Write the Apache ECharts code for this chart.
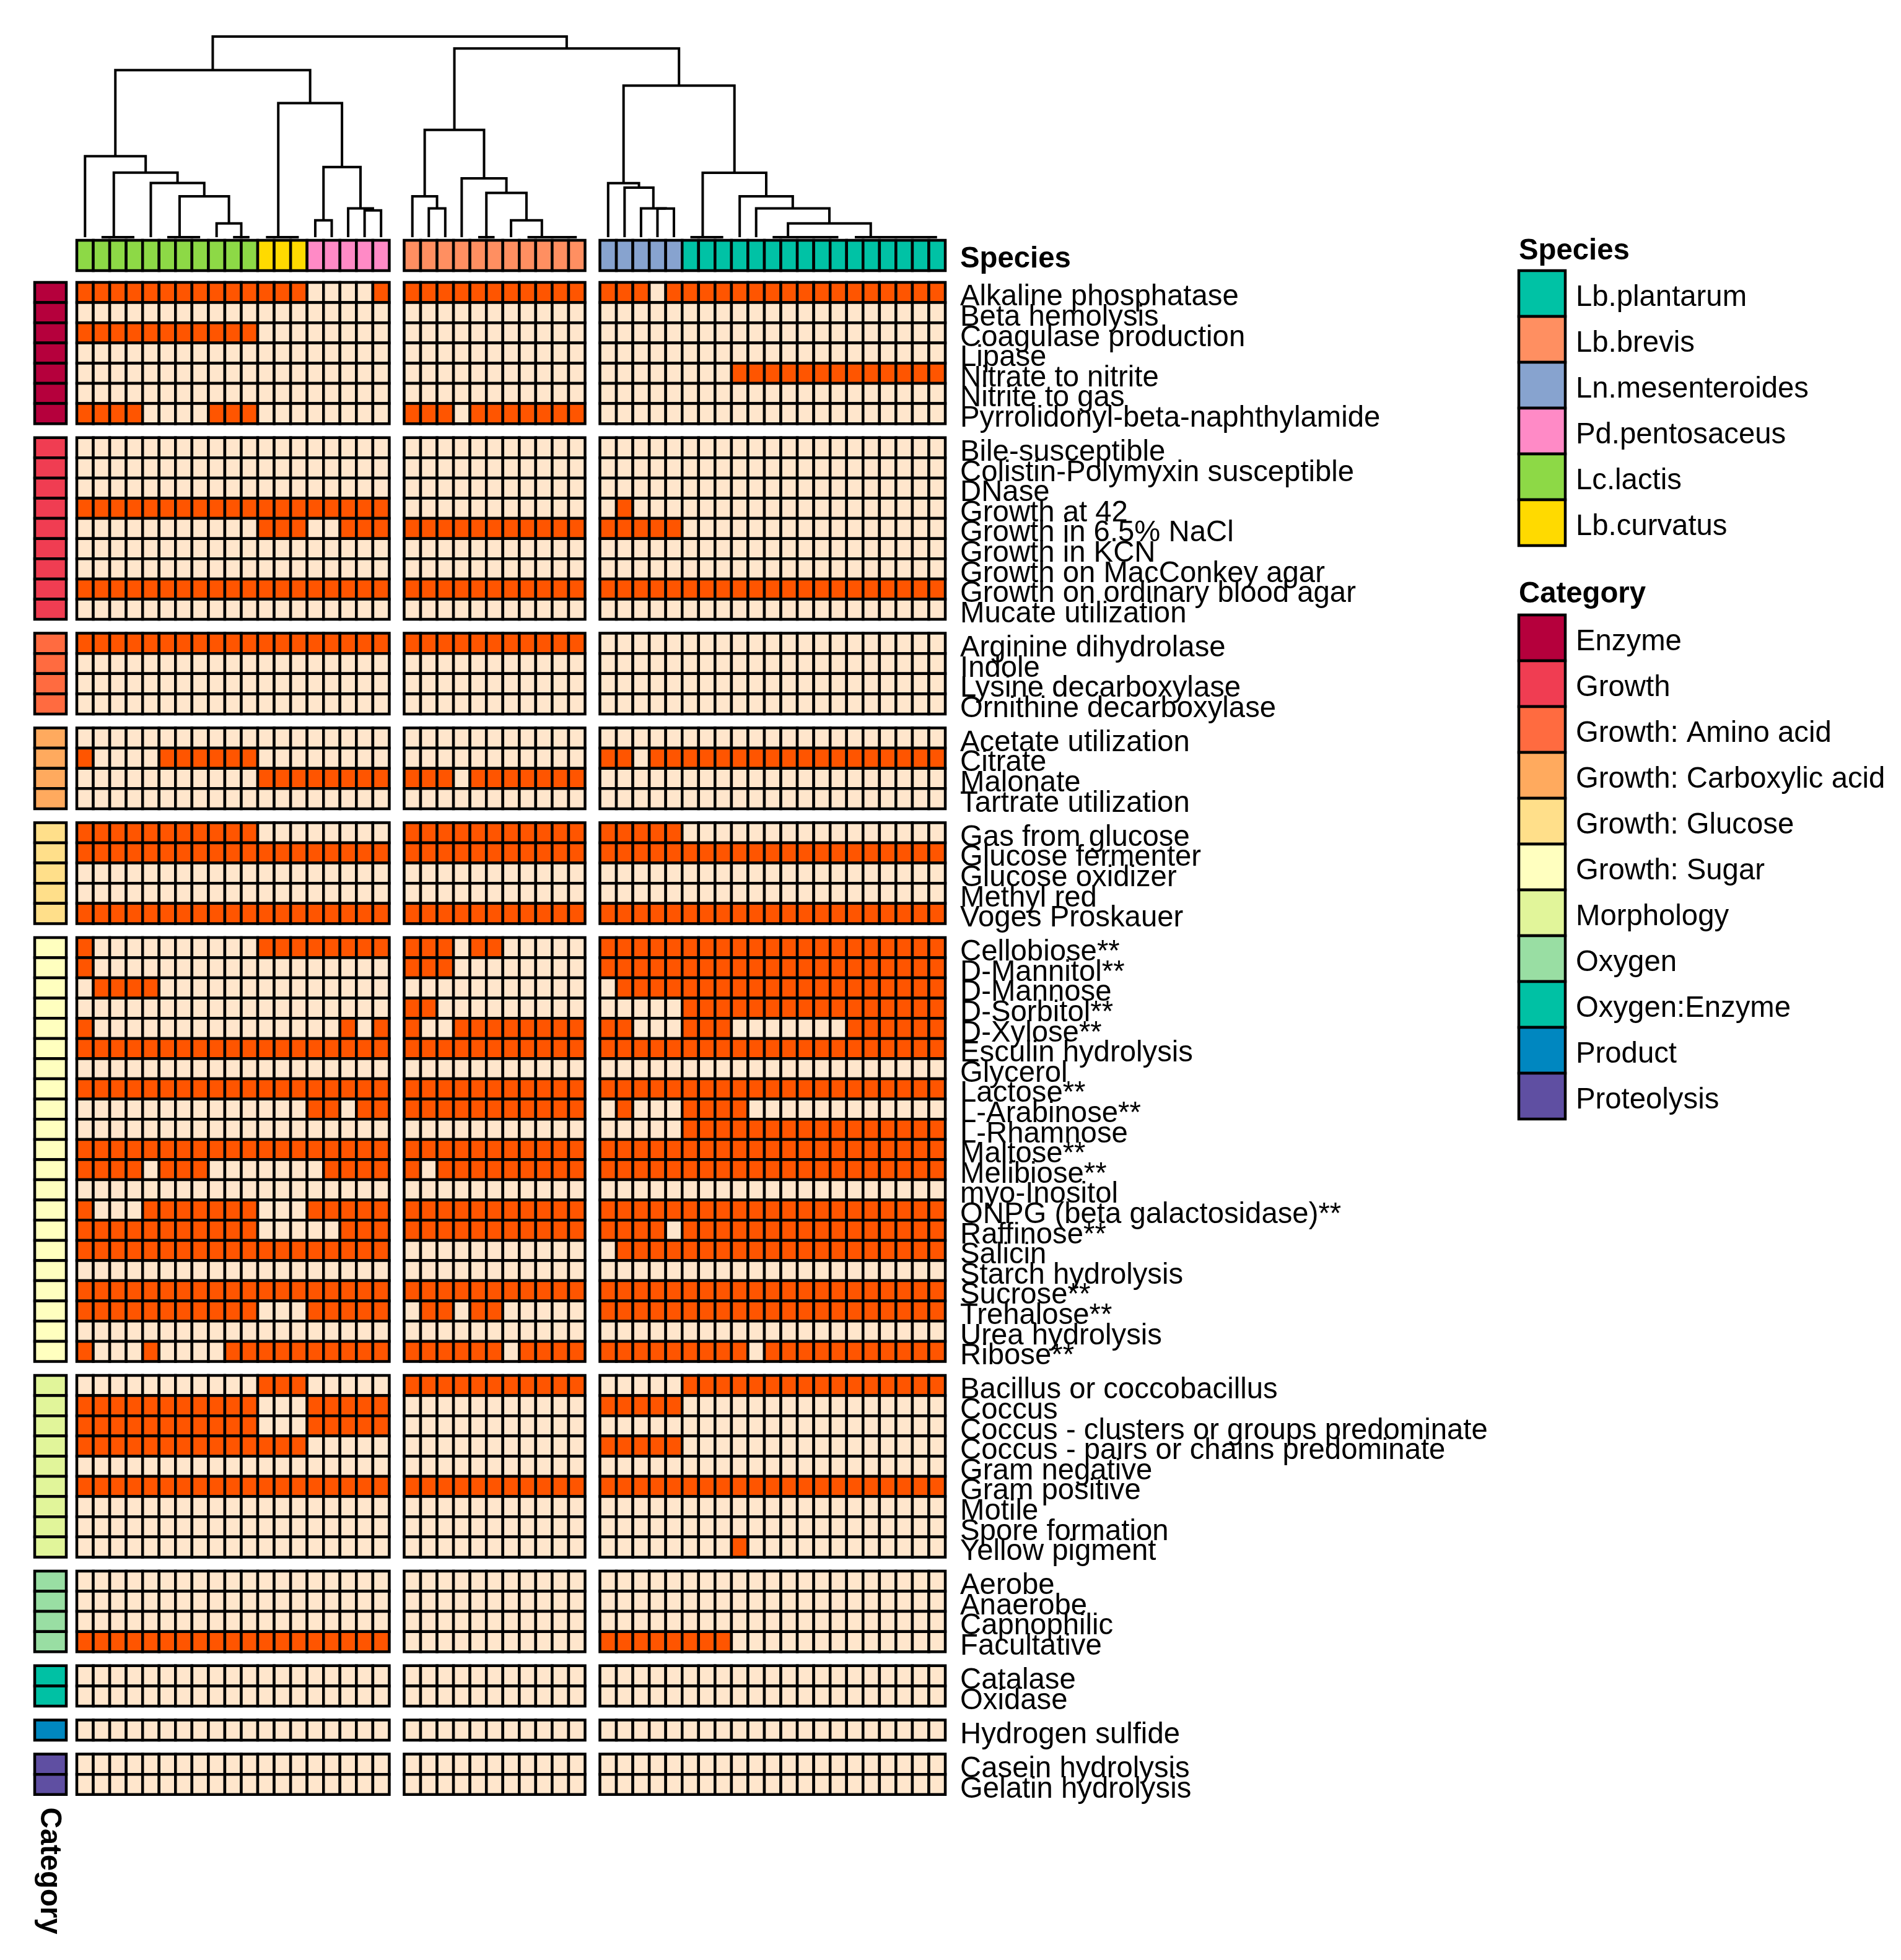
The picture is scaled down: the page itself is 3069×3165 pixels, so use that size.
<!DOCTYPE html>
<html>
<head>
<meta charset="utf-8">
<script src="https://cdn.jsdelivr.net/npm/echarts@6/dist/echarts.min.js"></script>
<style>html,body{margin:0;padding:0;background:#fff}#chart{width:3069px;height:3165px}</style>
</head>
<body>
<div id="chart"></div>
<script>
// ---------------- DATA ----------------
const categoryNames = ['Enzyme','Growth','Growth: Amino acid','Growth: Carboxylic acid','Growth: Glucose','Growth: Sugar','Morphology','Oxygen','Oxygen:Enzyme','Product','Proteolysis'];
const categoryColors = ['#B5003C','#F03D52','#FF6B40','#FFAA5E','#FFDF8A','#FFFFBF','#E1F59A','#99DEA3','#00C1A4','#0087C0','#5F4FA2'];
const categoryRowCounts = [7,9,4,4,5,21,9,4,2,1,2];

const speciesNames = ['Lb.plantarum','Lb.brevis','Ln.mesenteroides','Pd.pentosaceus','Lc.lactis','Lb.curvatus'];
const speciesColors = ['#00C2A5','#FF8F61','#87A3CF','#FF8AC6','#8DD946','#FFDA00'];
// column slices (left to right), runs of species
const columnGroupRuns = [
  [['Lc.lactis',11],['Lb.curvatus',3],['Pd.pentosaceus',5]],
  [['Lb.brevis',11]],
  [['Ln.mesenteroides',5],['Lb.plantarum',16]]
];

const traitNames = [
  'Alkaline phosphatase','Beta hemolysis','Coagulase production','Lipase','Nitrate to nitrite','Nitrite to gas','Pyrrolidonyl-beta-naphthylamide',
  'Bile-susceptible','Colistin-Polymyxin susceptible','DNase','Growth at 42','Growth in 6.5% NaCl','Growth in KCN','Growth on MacConkey agar','Growth on ordinary blood agar','Mucate utilization',
  'Arginine dihydrolase','Indole','Lysine decarboxylase','Ornithine decarboxylase',
  'Acetate utilization','Citrate','Malonate','Tartrate utilization',
  'Gas from glucose','Glucose fermenter','Glucose oxidizer','Methyl red','Voges Proskauer',
  'Cellobiose**','D-Mannitol**','D-Mannose','D-Sorbitol**','D-Xylose**','Esculin hydrolysis','Glycerol','Lactose**','L-Arabinose**','L-Rhamnose','Maltose**','Melibiose**','myo-Inositol','ONPG (beta galactosidase)**','Raffinose**','Salicin','Starch hydrolysis','Sucrose**','Trehalose**','Urea hydrolysis','Ribose**',
  'Bacillus or coccobacillus','Coccus','Coccus - clusters or groups predominate','Coccus - pairs or chains predominate','Gram negative','Gram positive','Motile','Spore formation','Yellow pigment',
  'Aerobe','Anaerobe','Capnophilic','Facultative',
  'Catalase','Oxidase',
  'Hydrogen sulfide',
  'Casein hydrolysis','Gelatin hydrolysis'
];
// 1 = positive, 0 = negative; three column slices separated by spaces
const traitValues = [
  '1111111111111100001 11111111111 111011111111111111111',
  '0000000000000000000 00000000000 000000000000000000000',
  '1111111111100000000 00000000000 000000000000000000000',
  '0000000000000000000 00000000000 000000000000000000000',
  '0000000000000000000 00000000000 000000001111111111111',
  '0000000000000000000 00000000000 000000000000000000000',
  '1111000011100000000 11101111111 000000000000000000000',
  '0000000000000000000 00000000000 000000000000000000000',
  '0000000000000000000 00000000000 000000000000000000000',
  '0000000000000000000 00000000000 000000000000000000000',
  '1111111111111111111 00000000000 010000000000000000000',
  '0000000000011100111 11111111111 111110000000000000000',
  '0000000000000000000 00000000000 000000000000000000000',
  '0000000000000000000 00000000000 000000000000000000000',
  '1111111111111111111 11111111111 111111111111111111111',
  '0000000000000000000 00000000000 000000000000000000000',
  '1111111111111111111 11111111111 000000000000000000000',
  '0000000000000000000 00000000000 000000000000000000000',
  '0000000000000000000 00000000000 000000000000000000000',
  '0000000000000000000 00000000000 000000000000000000000',
  '0000000000000000000 00000000000 000000000000000000000',
  '1000011111100000000 00000000000 110111111111111111111',
  '0000000000011111111 11101111111 000000000000000000000',
  '0000000000000000000 00000000000 000000000000000000000',
  '1111111111100000000 11111111111 111110000000000000000',
  '1111111111111111111 11111111111 111111111111111111111',
  '0000000000000000000 00000000000 000000000000000000000',
  '0000000000000000000 00000000000 000000000000000000000',
  '1111111111111111111 11111111111 111111111111111111111',
  '1000000000011111111 11101100000 111111111111111111111',
  '1000000000000000000 11100000000 111111111111111111111',
  '0111100000000000000 00000000000 011111111111111111111',
  '0000000000000000000 11000000000 000001111111111111111',
  '1000000000000000101 10011111111 110001110000000111111',
  '1111111111111111111 11111111111 111111111111111111111',
  '0000000000000000000 00000000000 000000000000000000000',
  '1111111111111111111 11111111111 111111111111111111111',
  '0000000000000011011 11111111111 010001111000000000000',
  '0000000000000000000 00000000000 000001111111111111111',
  '1111111111111111111 11111111111 111111111111111111111',
  '1111011100000001111 10111111111 111111111111111111111',
  '0000000000000000000 00000000000 000000000000000000000',
  '1000111111100011111 11111111111 111111111111111111111',
  '1111111111100000111 11111111111 111101111111111111111',
  '1111111111111111111 00000000000 011111111111111111111',
  '0000000000000000000 00000000000 000000000000000000000',
  '1111111111111111111 11111111111 111111111111111111111',
  '1111111111100011111 01101100000 111111111111111111111',
  '0000000000000000000 00000000000 000000000000000000000',
  '1000100001111111111 11111101111 111111111011111111111',
  '0000000000011100000 11111111111 000001111111111111111',
  '1111111111100011111 00000000000 111110000000000000000',
  '1111111111100011111 00000000000 000000000000000000000',
  '1111111111111100000 00000000000 111110000000000000000',
  '0000000000000000000 00000000000 000000000000000000000',
  '1111111111111111111 11111111111 111111111111111111111',
  '0000000000000000000 00000000000 000000000000000000000',
  '0000000000000000000 00000000000 000000000000000000000',
  '0000000000000000000 00000000000 000000001000000000000',
  '0000000000000000000 00000000000 000000000000000000000',
  '0000000000000000000 00000000000 000000000000000000000',
  '0000000000000000000 00000000000 000000000000000000000',
  '1111111111111111111 00000000000 111111110000000000000',
  '0000000000000000000 00000000000 000000000000000000000',
  '0000000000000000000 00000000000 000000000000000000000',
  '0000000000000000000 00000000000 000000000000000000000',
  '0000000000000000000 00000000000 000000000000000000000',
  '0000000000000000000 00000000000 000000000000000000000'
];
const valueColors = ['#FFE6CC', '#FF5500'];

// column dendrogram: leaves 0..50; merge k gets id 51+k; [childA, childB, height]
const dendroMerges = [
  [2,3,0],[1,51,0],[6,7,0],[5,53,0],[9,10,0],[8,55,67],[54,56,198],[4,57,263],[52,58,313],[0,59,393],
  [12,13,0],[11,61,0],[14,15,82],[17,18,130],[16,64,140],[63,65,340],[62,66,650],[60,67,810],
  [20,21,140],[19,69,198],[23,24,0],[28,29,0],[27,72,0],[26,73,0],[25,74,82],[71,75,215],[22,76,285],[70,77,520],
  [33,34,139],[32,79,140],[31,80,240],[30,81,262],
  [36,37,0],[35,83,0],[43,44,0],[42,85,0],[41,86,0],[40,87,0],[49,50,0],[48,89,0],[47,90,0],[46,91,0],[45,92,0],
  [88,93,67],[39,94,140],[38,95,198],[84,96,312],[82,97,735],[78,98,915],[68,99,973]
];

// ---------------- LAYOUT ----------------
const FONT = '"Liberation Sans", Arial, sans-serif';
const LEFT = 124, COL_W = 26.55, GAP_C = 24;
const TOP = 456, ROW_H = 32.6, GAP_R = 22.5;
const ANNO_X = 56, ANNO_W = 51;
const DENDRO_TOP = 59, DENDRO_BOTTOM = 383;
const SPEC_TOP = 388, SPEC_H = 49;
const LABEL_SIZE = 47.3;
const CELL_LINE = 4.5, DENDRO_LINE = 4;

const gapUnits = GAP_C / COL_W;
const colPos = [], colSpecies = [];
let cc = 0;
columnGroupRuns.forEach((runs, g) => {
  runs.forEach(([sp, n]) => {
    for (let i = 0; i < n; i++) { colPos.push(cc + g * gapUnits); colSpecies.push(sp); cc++; }
  });
});
const NC = colPos.length;
const xMin = -0.5, xMax = colPos[NC - 1] + 0.5;
const gridW = (xMax - xMin) * COL_W;
const matrix = traitValues.map(s => s.replace(/\s+/g, '').split('').map(Number));

const grid = [], xAxis = [], yAxis = [], series = [];
function valueX(gi) { return { type: 'value', gridIndex: gi, min: xMin, max: xMax, show: false }; }

function cellRender(fillFn) {
  return function (params, api) {
    const p = api.coord([api.value(0), api.value(1)]);
    const s = api.size([1, 1]);
    return {
      type: 'rect',
      shape: { x: p[0] - s[0] / 2, y: p[1] - s[1] / 2, width: s[0], height: s[1] },
      style: { fill: fillFn(api.value(2)), stroke: '#000', lineWidth: CELL_LINE }
    };
  };
}

// dendrogram
const nodeX = colPos.slice(), nodeH = new Array(NC).fill(0);
const dendroData = [];
dendroMerges.forEach(([a, b, h]) => {
  dendroData.push([nodeX[a], nodeX[b], nodeH[a], nodeH[b], h]);
  nodeX.push((nodeX[a] + nodeX[b]) / 2);
  nodeH.push(h);
});
const maxH = Math.max(...nodeH);
grid.push({ left: LEFT, top: DENDRO_TOP, width: gridW, height: DENDRO_BOTTOM - DENDRO_TOP });
xAxis.push(valueX(0));
yAxis.push({ type: 'value', gridIndex: 0, min: 0, max: maxH, show: false });
series.push({
  type: 'custom', xAxisIndex: 0, yAxisIndex: 0, data: dendroData, encode: { x: [0, 1], y: [2, 3, 4] },
  renderItem: function (params, api) {
    const xl = api.value(0), xr = api.value(1), hl = api.value(2), hr = api.value(3), hm = api.value(4);
    return {
      type: 'polyline',
      shape: { points: [api.coord([xl, hl]), api.coord([xl, hm]), api.coord([xr, hm]), api.coord([xr, hr])] },
      style: { stroke: '#000', lineWidth: DENDRO_LINE, fill: null }
    };
  }
});

function labelStyle(bold, shift) {
  return {
    margin: 24,
    formatter: v => '{t|' + v + '}',
    rich: { t: { fontSize: LABEL_SIZE, fontFamily: FONT, color: '#000', fontWeight: bold ? 'bold' : 'normal', padding: [shift, 0, 0, 0] } }
  };
}

// species annotation
grid.push({ left: LEFT, top: SPEC_TOP, width: gridW, height: SPEC_H });
xAxis.push(valueX(1));
yAxis.push({
  type: 'category', gridIndex: 1, data: ['Species'], position: 'right',
  axisLine: { show: false }, axisTick: { show: false },
  axisLabel: labelStyle(true, 12)
});
series.push({
  type: 'custom', xAxisIndex: 1, yAxisIndex: 1, encode: { x: 0, y: 1 },
  data: colPos.map((x, i) => [x, 0, speciesNames.indexOf(colSpecies[i])]),
  renderItem: cellRender(v => speciesColors[v])
});

// heatmap slices by category + category annotation
let rowStart = 0;
categoryRowCounts.forEach((n, b) => {
  const top = TOP + rowStart * ROW_H + b * GAP_R;
  const names = traitNames.slice(rowStart, rowStart + n);
  const hi = grid.length;
  grid.push({ left: LEFT, top: top, width: gridW, height: n * ROW_H });
  xAxis.push(valueX(hi));
  yAxis.push({
    type: 'category', gridIndex: hi, data: names, inverse: true, position: 'right',
    axisLine: { show: false }, axisTick: { show: false },
    axisLabel: Object.assign({ interval: 0 }, labelStyle(false, 16))
  });
  const cells = [];
  for (let r = 0; r < n; r++) for (let c = 0; c < NC; c++) cells.push([colPos[c], r, matrix[rowStart + r][c]]);
  series.push({ type: 'custom', xAxisIndex: hi, yAxisIndex: hi, encode: { x: 0, y: 1 }, data: cells, renderItem: cellRender(v => valueColors[v]) });

  const ai = grid.length;
  grid.push({ left: ANNO_X, top: top, width: ANNO_W, height: n * ROW_H });
  xAxis.push({ type: 'category', gridIndex: ai, data: ['Category'], show: false });
  yAxis.push({ type: 'category', gridIndex: ai, data: names, inverse: true, show: false });
  const ac = [];
  for (let r = 0; r < n; r++) ac.push([0, r, b]);
  series.push({ type: 'custom', xAxisIndex: ai, yAxisIndex: ai, encode: { x: 0, y: 1 }, data: ac, renderItem: cellRender(v => categoryColors[v]) });
  rowStart += n;
});

// legends
const LEG_X = 2452, LEG_W = 75, LEG_H = 74;
const graphic = [];
function addLegend(title, titleY, boxTop, names, colors) {
  graphic.push({ type: 'text', x: LEG_X, y: titleY, style: { text: title, font: 'bold ' + LABEL_SIZE + 'px ' + FONT, fill: '#000', align: 'left', verticalAlign: 'middle' } });
  names.forEach((nm, i) => {
    graphic.push({ type: 'rect', shape: { x: LEG_X, y: boxTop + i * LEG_H, width: LEG_W, height: LEG_H }, style: { fill: colors[i], stroke: '#000', lineWidth: CELL_LINE } });
    graphic.push({ type: 'text', x: LEG_X + LEG_W + 17, y: boxTop + i * LEG_H + LEG_H / 2 + 7, style: { text: nm, font: LABEL_SIZE + 'px ' + FONT, fill: '#000', align: 'left', verticalAlign: 'middle' } });
  });
}
addLegend('Species', 406, 437, speciesNames, speciesColors);
addLegend('Category', 960, 993, categoryNames, categoryColors);
graphic.push({ type: 'text', x: 79, y: 3021, rotation: -Math.PI / 2, style: { text: 'Category', font: 'bold ' + LABEL_SIZE + 'px ' + FONT, fill: '#000', align: 'center', verticalAlign: 'middle' } });

const chart = echarts.init(document.getElementById('chart'), null, { renderer: 'canvas' });
chart.setOption({ animation: false, backgroundColor: '#fff', grid, xAxis, yAxis, series, graphic });
</script>
</body>
</html>
